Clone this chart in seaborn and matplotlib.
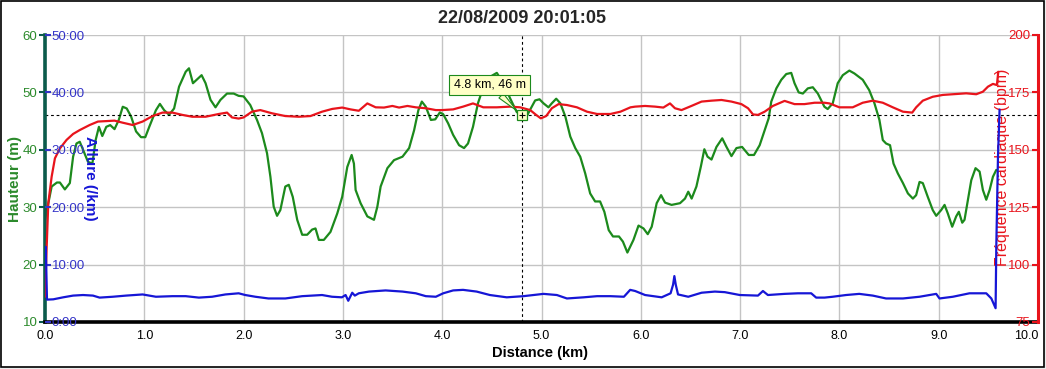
import matplotlib
matplotlib.use("Agg")
import matplotlib.pyplot as plt
import seaborn as sns
import pandas as pd
from matplotlib.patches import Rectangle

# ---------------- data ----------------
title = "22/08/2009 20:01:05"

dist_h = [0.0, 0.033, 0.067, 0.12, 0.15, 0.2, 0.25, 0.283, 0.317, 0.35, 0.383, 0.433, 0.477,
          0.51, 0.543, 0.577, 0.617, 0.657, 0.7, 0.743, 0.783, 0.823, 0.867, 0.917, 0.967,
          1.01, 1.05, 1.117, 1.157, 1.2, 1.25, 1.3, 1.35, 1.417, 1.45, 1.49, 1.533, 1.577,
          1.617, 1.667, 1.717, 1.767, 1.833, 1.9, 1.95, 2.0, 2.067, 2.135, 2.185, 2.236,
          2.27, 2.303, 2.337, 2.37, 2.42, 2.455, 2.495, 2.54, 2.59, 2.64, 2.69, 2.724,
          2.758, 2.808, 2.875, 2.943, 2.993, 3.044, 3.088, 3.111, 3.128, 3.178, 3.246,
          3.313, 3.347, 3.38, 3.448, 3.515, 3.6, 3.667, 3.717, 3.76, 3.795, 3.835, 3.886,
          3.93, 3.976, 4.01, 4.06, 4.11, 4.17, 4.22, 4.26, 4.31, 4.36, 4.41, 4.48, 4.55,
          4.62, 4.683, 4.75, 4.81, 4.85, 4.886, 4.936, 4.98, 5.02, 5.07, 5.104, 5.148,
          5.19, 5.24, 5.29, 5.34, 5.39, 5.44, 5.49, 5.54, 5.59, 5.633, 5.677, 5.72, 5.78,
          5.82, 5.865, 5.926, 5.977, 6.027, 6.07, 6.11, 6.16, 6.204, 6.244, 6.31, 6.395,
          6.445, 6.478, 6.512, 6.56, 6.605, 6.64, 6.672, 6.712, 6.762, 6.82, 6.863, 6.913,
          6.963, 7.02, 7.087, 7.14, 7.197, 7.247, 7.288, 7.314, 7.365, 7.415, 7.465,
          7.515, 7.548, 7.59, 7.632, 7.682, 7.732, 7.783, 7.849, 7.882, 7.933, 7.983,
          8.034, 8.1, 8.151, 8.235, 8.3, 8.353, 8.403, 8.437, 8.47, 8.51, 8.545, 8.588,
          8.64, 8.69, 8.74, 8.773, 8.807, 8.84, 8.89, 8.94, 8.975, 9.025, 9.059, 9.092,
          9.136, 9.176, 9.203, 9.237, 9.26, 9.294, 9.328, 9.371, 9.412, 9.445, 9.479,
          9.513, 9.546, 9.58]
height = [27.8, 30.7, 33.6, 34.3, 34.3, 33.1, 34.2, 38.8, 41.1, 41.4, 40.0, 37.9, 37.6,
          41.7, 44.0, 42.4, 44.0, 44.3, 43.6, 45.2, 47.5, 47.2, 45.8, 43.2, 42.2,
          42.2, 44.0, 46.9, 48.0, 46.9, 46.1, 47.2, 51.0, 53.6, 54.2, 51.6, 52.3, 53.0,
          51.6, 48.7, 47.4, 48.7, 49.8, 49.8, 49.4, 49.3, 47.8, 45.2, 42.9, 39.4,
          35.3, 30.1, 28.5, 29.5, 33.6, 33.9, 31.8, 27.8, 25.2, 25.2, 26.1, 26.3,
          24.3, 24.3, 25.7, 28.9, 31.8, 37.0, 39.1, 37.6, 33.0, 30.7, 28.4,
          27.8, 30.1, 33.6, 36.8, 38.2, 38.8, 40.3, 43.4, 46.9, 48.4, 47.5, 45.2,
          45.3, 46.5, 46.2, 44.6, 42.6, 40.8, 40.3, 41.1, 44.0, 48.1, 50.7, 52.7, 53.4,
          51.5, 49.0, 46.6, 45.7, 45.8, 47.0, 48.6, 48.8, 48.1, 47.4, 48.1, 48.9,
          48.1, 45.8, 42.3, 40.3, 38.8, 35.9, 32.4, 31.0, 31.0, 29.2, 26.0, 24.9, 24.9,
          24.0, 22.1, 24.3, 26.8, 26.3, 25.3, 26.6, 30.7, 32.1, 30.8, 30.4, 30.7,
          31.5, 32.7, 31.5, 33.6, 37.1, 40.1, 38.8, 38.3, 40.5, 42.0, 40.5, 38.9,
          40.3, 40.5, 39.1, 39.1, 40.8, 43.4, 45.5, 48.4, 50.7, 52.2, 53.2,
          53.4, 51.6, 50.0, 49.8, 50.7, 50.9, 49.8, 47.5, 47.1, 48.1, 51.6,
          53.0, 53.8, 53.3, 52.2, 50.4, 48.1, 45.2, 41.7, 41.1, 40.8, 37.6, 35.9,
          34.2, 32.4, 31.5, 32.1, 34.4, 34.2, 31.8, 29.5, 28.5, 29.5, 30.4, 28.9,
          26.6, 28.4, 29.2, 27.3, 27.8, 31.3, 34.7, 36.8, 36.2, 33.0, 31.3,
          33.0, 35.3, 36.5]

dist_hr = [0.0, 0.017, 0.033, 0.067, 0.1, 0.15, 0.217, 0.283, 0.35, 0.45, 0.533, 0.617,
           0.7, 0.783, 0.883, 0.983, 1.083, 1.183, 1.283, 1.383, 1.483, 1.617, 1.75,
           1.833, 1.883, 1.95, 2.0, 2.084, 2.168, 2.286, 2.42, 2.556, 2.673, 2.79, 2.892,
           2.993, 3.077, 3.16, 3.246, 3.33, 3.414, 3.498, 3.566, 3.65, 3.734, 3.835,
           3.936, 4.0, 4.11, 4.21, 4.31, 4.414, 4.55, 4.683, 4.785, 4.886, 4.946, 4.993,
           5.047, 5.104, 5.172, 5.256, 5.357, 5.458, 5.56, 5.694, 5.795, 5.896, 5.943,
           6.043, 6.144, 6.227, 6.294, 6.344, 6.41, 6.51, 6.612, 6.712, 6.813, 6.913,
           7.013, 7.08, 7.13, 7.18, 7.247, 7.33, 7.448, 7.548, 7.649, 7.75, 7.85, 7.9,
           8.0, 8.134, 8.235, 8.336, 8.437, 8.538, 8.64, 8.733, 8.773, 8.84, 8.94, 9.042,
           9.143, 9.277, 9.378, 9.445, 9.496, 9.546, 9.586, 9.6]
heart_rate = [86, 107.8, 126.7, 138.3, 146.3, 150.6, 154.3, 156.9, 158.6, 160.8, 162.3, 162.5,
              162.7, 161.8, 160.8, 162.3, 164.7, 166.2, 166.2, 165.2, 164.4, 164.4, 165.6,
              166.2, 164.1, 163.6, 164.1, 166.6, 167.3, 165.9, 164.7, 164.4, 164.7, 166.6, 167.8,
              168.4, 167.6, 167.0, 170.2, 168.5, 168.4, 169.1, 168.4, 169.1, 168.5, 168.1,
              167.3, 167.3, 167.6, 168.8, 170.2, 168.5, 168.5, 168.8, 168.5, 167.3, 165.2, 163.7,
              164.7, 168.1, 169.9, 169.5, 168.5, 166.6, 165.6, 165.6, 166.6, 168.5, 168.8,
              169.1, 168.8, 168.4, 170.2, 168.1, 167.3, 169.1, 171.0, 171.4, 171.7, 171.0,
              169.9, 168.1, 165.4, 165.2, 166.6, 169.1, 171.3, 169.9, 169.9, 170.5, 170.5, 170.2,
              168.5, 168.5, 170.5, 171.4, 170.5, 168.5, 166.6, 166.2, 168.5, 171.4, 173.1, 173.9,
              174.2, 174.6, 174.2, 175.3, 177.5, 178.7, 178.2, 184.0]

dist_pace = [0.008, 0.02, 0.083, 0.183, 0.283, 0.383, 0.483, 0.55, 0.683, 0.817, 0.983,
             1.117, 1.283, 1.417, 1.55, 1.683, 1.817, 1.95, 2.017, 2.118, 2.25, 2.42, 2.59,
             2.79, 2.89, 2.99, 3.027, 3.054, 3.094, 3.12, 3.16, 3.263, 3.43, 3.6, 3.734,
             3.835, 3.936, 4.01, 4.11, 4.21, 4.347, 4.48, 4.65, 4.818, 5.02, 5.155, 5.256,
             5.424, 5.56, 5.694, 5.83, 5.893, 5.943, 6.043, 6.21, 6.3, 6.325, 6.338, 6.352,
             6.375, 6.478, 6.612, 6.746, 6.846, 6.997, 7.18, 7.23, 7.28, 7.448, 7.582, 7.716,
             7.766, 7.85, 7.933, 8.067, 8.2, 8.336, 8.47, 8.64, 8.807, 8.975, 9.008, 9.143,
             9.31, 9.479, 9.53, 9.573, 9.58, 9.597, 9.613]
pace_min = [13.1, 3.9, 3.95, 4.3, 4.6, 4.7, 4.6, 4.25, 4.4, 4.6, 4.8,
            4.4, 4.5, 4.5, 4.25, 4.4, 4.8, 5.0, 4.7, 4.4, 4.1, 4.1, 4.5,
            4.7, 4.4, 4.3, 4.7, 3.7, 5.1, 4.6, 5.0, 5.3, 5.5, 5.3, 5.0,
            4.5, 4.4, 5.0, 5.5, 5.6, 5.3, 4.7, 4.3, 4.5, 4.9, 4.7, 4.1,
            4.3, 4.5, 4.5, 4.4, 5.6, 5.4, 4.7, 4.3, 5.0, 6.5, 8.0, 6.5,
            4.8, 4.4, 5.1, 5.3, 5.2, 4.7, 4.6, 5.4, 4.7, 4.9, 5.0, 5.0,
            4.25, 4.25, 4.4, 4.7, 4.9, 4.6, 4.1, 4.1, 4.4, 4.9, 4.1, 4.4,
            5.0, 5.0, 4.1, 2.4, 13.1, 28.8, 37.0]

x_ticks = [0, 1, 2, 3, 4, 5, 6, 7, 8, 9, 10]
h_ticks = [10, 20, 30, 40, 50, 60]
pace_ticks = [0, 10, 20, 30, 40, 50]
hr_ticks = [75, 100, 125, 150, 175, 200]

cursor_km, cursor_m = 4.8, 46
tooltip = "4.8 km, 46 m"

# ---------------- styling ----------------
GREEN = "#1c8a1c"
GREEN_TXT = "#2b8a2b"
RED = "#e8141c"
BLUE = "#1616d6"
BLUE_TXT = "#3434c8"

sns.set_theme(style="white")
plt.rcParams["font.family"] = ["Liberation Sans", "DejaVu Sans"]

W, H = 1046, 369
fig = plt.figure(figsize=(W / 100, H / 100), dpi=100)
fig.patch.set_facecolor("#ececec")
fig.patches.append(Rectangle((0.5 / W, 2.5 / H), 1043 / W, 365.5 / H, transform=fig.transFigure,
                             facecolor="white", edgecolor="black", lw=1.2, zorder=-10))

L, R, T, B = 45, 1038, 35, 322
ax = fig.add_axes([L / W, (H - B) / H, (R - L) / W, (B - T) / H])
ax.set_facecolor("white")
ax3 = ax.twinx()   # heart rate
ax2 = ax.twinx()   # pace (top-most)

df_h = pd.DataFrame({"km": dist_h, "m": height})
df_hr = pd.DataFrame({"km": dist_hr, "bpm": heart_rate})
df_p = pd.DataFrame({"km": dist_pace, "pace": pace_min})

line_kw = dict(lw=1.6, estimator=None, sort=False, solid_joinstyle="round", solid_capstyle="round")
sns.lineplot(data=df_h, x="km", y="m", ax=ax, color=GREEN, **line_kw)
sns.lineplot(data=df_hr, x="km", y="bpm", ax=ax3, color=RED, **line_kw)
sns.lineplot(data=df_p, x="km", y="pace", ax=ax2, color=BLUE, **line_kw)

# main (height) axis
ax.set_xlim(0, 10)
ax.set_ylim(10, 60)
ax.set_xticks(x_ticks, labels=[f"{v:.1f}" for v in x_ticks], fontsize=9)
xt = ax.xaxis.get_major_ticks()
xt[-1].label1.set_horizontalalignment("right")
ax.set_yticks(h_ticks)
ax.grid(True, color="#c4c4c4", lw=1)
ax.set_axisbelow(True)
ax.tick_params(axis="x", direction="out", length=4, width=1.5, colors="black", pad=2)
ax.tick_params(axis="y", direction="out", length=4, width=1.5, colors=GREEN_TXT, labelsize=9.5, pad=1.5)
ax.tick_params(axis="y", color="#0b5b4b")
for s in ["top", "right"]:
    ax.spines[s].set_visible(False)
ax.spines["left"].set_color("#0b5b4b")
ax.spines["left"].set_linewidth(2.6)
ax.spines["bottom"].set_color("black")
ax.spines["bottom"].set_linewidth(2.6)
ax.set_xlabel("Distance (km)", fontsize=10.5, fontweight="bold", color="black")
ax.xaxis.set_label_coords(0.4985, -0.108)
ax.xaxis.label.set_va("center")
ax.set_ylabel("Hauteur (m)", fontsize=11, fontweight="bold", color=GREEN_TXT)
ax.yaxis.set_label_coords(-0.030, 0.5)
ax.yaxis.label.set_va("center")

# pace axis (labels inside on the left)
ax2.set_ylim(0, 50)
ax2.yaxis.tick_left()
ax2.set_yticks(pace_ticks, labels=[f"{v}:00" for v in pace_ticks])
ax2.tick_params(axis="y", direction="in", length=4, width=1.5, colors=BLUE_TXT, labelsize=9.5, pad=-4.8)
for t in ax2.yaxis.get_major_ticks():
    t.label1.set_horizontalalignment("left")
ax2.set_ylabel("Allure (/km)", fontsize=11, fontweight="bold", color=BLUE, rotation=270)
ax2.yaxis.set_label_coords(0.045, 0.5)
ax2.yaxis.label.set_va("center")
for s in ax2.spines.values():
    s.set_visible(False)

# heart-rate axis (labels inside on the right)
ax3.set_ylim(75, 200)
ax3.set_yticks(hr_ticks)
ax3.tick_params(axis="y", direction="in", length=4, width=1.5, colors=RED, labelsize=9.5, pad=-5.5)
for t in ax3.yaxis.get_major_ticks():
    t.label2.set_horizontalalignment("right")
ax3.set_ylabel("Fréquence cardiaque (bpm)", fontsize=11.5, color=RED, rotation=90)
ax3.yaxis.set_label_coords(0.964, 0.54)
ax3.yaxis.label.set_va("center")
for s in ["top", "left", "bottom"]:
    ax3.spines[s].set_visible(False)
ax3.spines["right"].set_color(RED)
ax3.spines["right"].set_linewidth(2.2)

# cursor cross-hair, marker and tooltip
ax.axvline(cursor_km, color="black", lw=0.8, ls=(0, (2.5, 2.5)))
ax.axhline(cursor_m, color="black", lw=0.8, ls=(0, (2.5, 2.5)))
ax2.plot([cursor_km], [cursor_m], transform=ax.transData, marker="s", ms=6.5,
         mfc="#ffffc6", mec=GREEN, mew=0.9, ls="none", zorder=6)
ax2.plot([cursor_km], [cursor_m], transform=ax.transData, marker="+", ms=4.5,
         mec="black", mew=0.8, ls="none", zorder=7)
ax2.annotate(tooltip, xy=(cursor_km, cursor_m), xycoords=ax.transData,
             xytext=(4.48, 51.3), textcoords=ax.transData,
             ha="center", va="center", fontsize=9, color="black", zorder=8,
             bbox=dict(boxstyle="square,pad=0.35", fc="#ffffc6", ec=GREEN, lw=0.8),
             arrowprops=dict(arrowstyle="wedge,tail_width=0.5,shrink_factor=0.5",
                             fc="#ffffc6", ec=GREEN, lw=0.8, shrinkA=0, shrinkB=5))
ax2.set_ylim(0, 50)
ax2.set_xlim(0, 10)

fig.suptitle(title, x=0.4986, y=0.950, va="center", fontsize=13, fontweight="bold")

fig.savefig("out.png", dpi=100, facecolor=fig.get_facecolor())
